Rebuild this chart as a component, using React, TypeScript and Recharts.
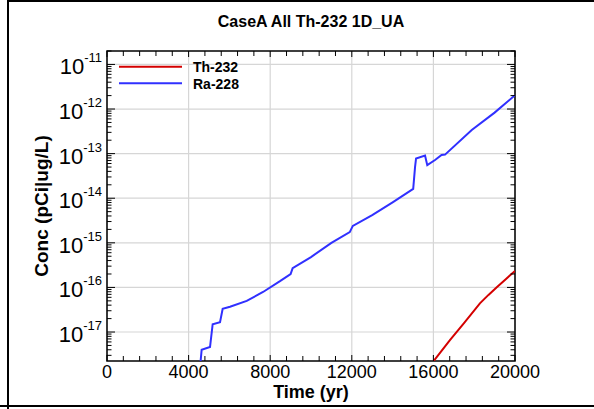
import React from 'react';
import { LineChart, Line, XAxis, YAxis, CartesianGrid, ReferenceArea } from 'recharts';

// Ra-228 (blue)
const raTime = [4560, 4640, 5050, 5180, 5540, 5670, 6030, 6850, 7650, 8480, 9000, 9100, 10000, 11000, 11900, 12050, 13000, 14000, 15010, 15100, 15150, 15590, 15700, 16080, 16400, 16570, 17880, 19000, 20000];
const raConc = [1.6e-18, 4.0e-18, 4.6e-18, 1.5e-17, 1.66e-17, 3.3e-17, 3.7e-17, 5.0e-17, 7.9e-17, 1.38e-16, 2.0e-16, 2.7e-16, 4.8e-16, 1.0e-15, 1.74e-15, 2.4e-15, 4.2e-15, 8.1e-15, 1.62e-14, 5.0e-14, 7.8e-14, 9.1e-14, 5.5e-14, 7.2e-14, 9.3e-14, 9.5e-14, 3.4e-13, 8.3e-13, 2.04e-12];

// Th-232 (red)
const thTime = [16000, 16810, 17500, 18280, 18700, 19120, 19560, 20000];
const thConc = [2.2e-18, 6.6e-18, 1.58e-17, 4.4e-17, 6.8e-17, 1.02e-16, 1.55e-16, 2.34e-16];

const seriesNames = ['Th-232', 'Ra-228'];
const seriesColors = ['#d40000', '#3030ff'];

const xMajorTicks = [0, 4000, 8000, 12000, 16000, 20000];
const xMinorStep = 800;
const yDecades = [-17, -16, -15, -14, -13, -12, -11];
const yMinorMult = [2, 3, 4, 5, 6, 7, 8, 9];

const X_MIN = 0;
const X_MAX = 20000;
const Y_MIN = 2.24e-18;
const Y_MAX = 2e-11;

const W = 594;
const H = 409;
const PLOT = { left: 107, right: 515, top: 51, bottom: 361 };
const FONT = '"Liberation Sans", Arial, Helvetica, sans-serif';

const thData = thTime.map((t, i) => ({ t, v: thConc[i] }));
const raData = raTime.map((t, i) => ({ t, v: raConc[i] }));

const xTicks: number[] = [];
for (let t = X_MIN; t <= X_MAX; t += xMinorStep) xTicks.push(t);

const yTicks: number[] = [];
for (let e = -18; e <= -11; e++) {
  const base = Math.pow(10, e);
  if (base >= Y_MIN && base <= Y_MAX) yTicks.push(base);
  yMinorMult.forEach(m => {
    const v = m * base;
    if (v >= Y_MIN && v <= Y_MAX) yTicks.push(v);
  });
}
const yMajor = yDecades.map(e => Math.pow(10, e));

const XTick = (props: any) => {
  const { x, payload } = props;
  const v = payload.value;
  const major = xMajorTicks.includes(v);
  const len = major ? 6 : 5;
  return (
    <g>
      <line x1={x} x2={x} y1={PLOT.bottom} y2={PLOT.bottom - len} stroke="#000" strokeWidth={1} />
      <line x1={x} x2={x} y1={PLOT.top} y2={PLOT.top + len} stroke="#000" strokeWidth={1} />
      {major && (
        <text x={x} y={378} textAnchor="middle" fontFamily={FONT} fontSize={18} fill="#000">
          {v}
        </text>
      )}
    </g>
  );
};

const YTick = (props: any) => {
  const { y, payload } = props;
  const v = payload.value;
  const exp = Math.round(Math.log10(v));
  const major = Math.abs(v / Math.pow(10, exp) - 1) < 1e-6;
  const len = major ? 8 : 4.5;
  return (
    <g>
      <line x1={PLOT.left} x2={PLOT.left + len} y1={y} y2={y} stroke="#000" strokeWidth={1} />
      <line x1={PLOT.right} x2={PLOT.right - len} y1={y} y2={y} stroke="#000" strokeWidth={1} />
      {major && (
        <text x={PLOT.left - 5} y={y + 10} textAnchor="end" fontFamily={FONT} fill="#000">
          <tspan fontSize={22}>10</tspan>
          <tspan fontSize={13} dy={-12}>{`${exp}`}</tspan>
        </text>
      )}
    </g>
  );
};

export default function App() {
  return (
    <div style={{ position: 'relative', width: W, height: H, background: '#fff', overflow: 'hidden' }}>
      <style>{'html,body{margin:0;padding:0}'}</style>
      <div style={{ position: 'absolute', left: 7, top: 0, width: W - 7, height: 2, background: '#000' }} />
      <div style={{ position: 'absolute', left: 7, top: 0, width: 2, height: H, background: '#000' }} />
      <div style={{ position: 'absolute', left: 0, top: 405, width: W, height: 2, background: '#000' }} />
      <div style={{ position: 'absolute', left: 0, top: 0 }}>
        <LineChart
          width={W}
          height={H}
          margin={{ top: PLOT.top, right: W - PLOT.right, left: 0, bottom: 0 }}
        >
          <CartesianGrid
            stroke="#d6d6d6"
            strokeWidth={1.2}
            horizontalValues={yMajor}
            verticalValues={xMajorTicks}
          />
          <XAxis
            type="number"
            dataKey="t"
            domain={[X_MIN, X_MAX]}
            ticks={xTicks}
            interval={0}
            height={H - PLOT.bottom}
            axisLine={false}
            tickLine={false}
            tick={<XTick />}
            allowDataOverflow
          />
          <YAxis
            type="number"
            scale="log"
            domain={[Y_MIN, Y_MAX]}
            ticks={yTicks}
            interval={0}
            width={PLOT.left}
            axisLine={false}
            tickLine={false}
            tick={<YTick />}
            allowDataOverflow
          />
          <Line data={thData} dataKey="v" name={seriesNames[0]} stroke={seriesColors[0]} strokeWidth={2} dot={false} type="linear" isAnimationActive={false} />
          <Line data={raData} dataKey="v" name={seriesNames[1]} stroke={seriesColors[1]} strokeWidth={2} dot={false} type="linear" isAnimationActive={false} />
          <ReferenceArea x1={X_MIN} x2={X_MAX} y1={Y_MIN} y2={Y_MAX} fill="none" stroke="#000" strokeWidth={1.5} ifOverflow="visible" />
        </LineChart>
      </div>

      <svg width={W} height={H} style={{ position: 'absolute', left: 0, top: 0, pointerEvents: 'none' }}>
        <text x={(PLOT.left + PLOT.right) / 2} y={27} textAnchor="middle" fontFamily={FONT} fontWeight="bold" fontSize={16} fill="#000">
          CaseA All Th-232 1D_UA
        </text>
        <text x={(PLOT.left + PLOT.right) / 2} y={398} textAnchor="middle" fontFamily={FONT} fontWeight="bold" fontSize={18} fill="#000">
          Time (yr)
        </text>
        <text
          transform={`translate(48, ${(PLOT.top + PLOT.bottom) / 2}) rotate(-90)`}
          textAnchor="middle"
          fontFamily={FONT}
          fontWeight="bold"
          fontSize={19}
          fill="#000"
        >
          Conc (pCi|ug/L)
        </text>
        {seriesNames.map((name, i) => (
          <g key={name}>
            <line x1={119} x2={182} y1={66.7 + i * 16.6} y2={66.7 + i * 16.6} stroke={seriesColors[i]} strokeWidth={2} />
            <text x={193} y={72 + i * 16.6} fontFamily={FONT} fontWeight="bold" fontSize={14} fill="#000">
              {name}
            </text>
          </g>
        ))}
      </svg>
    </div>
  );
}
